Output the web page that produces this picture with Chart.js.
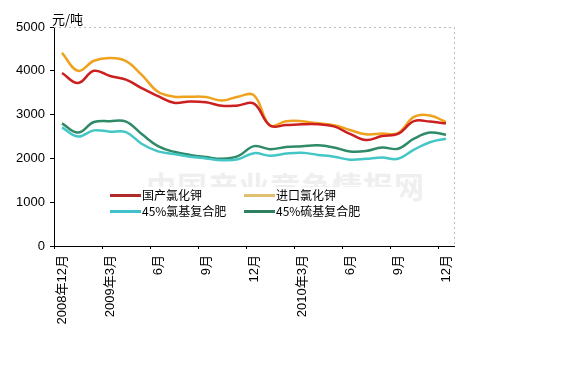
<!DOCTYPE html>
<html>
<head>
<meta charset="utf-8">
<script src="https://cdn.jsdelivr.net/npm/chart.js@4.4.1/dist/chart.umd.min.js"></script>
<style>
  html, body { margin: 0; padding: 0; background: #fff; }
  #wrap { position: relative; width: 573px; height: 380px; overflow: hidden; }
  #wm { position: absolute; left: 146px; top: 163px; font: bold 30px "Noto Sans CJK SC", sans-serif; color: #efefef; letter-spacing: 1px; white-space: nowrap; z-index: 0; }
  canvas { position: absolute; left: 0; top: 0; z-index: 1; }
  #unit { position: absolute; left: 52px; top: 9px; font: 13px "Noto Sans CJK SC", sans-serif; color: #000; z-index: 2; }
  #legend { position: absolute; left: 110px; top: 187px; width: 290px; height: 33px; background: #fff; z-index: 2; font: 12px "Noto Sans CJK SC", "Liberation Sans", sans-serif; color: #000; }
  .item { position: absolute; height: 16px; line-height: 16px; white-space: nowrap; }
  .sw { display: inline-block; width: 31px; height: 3px; vertical-align: middle; margin-right: 1px; position: relative; top: -1px; }
</style>
</head>
<body>
<div id="wrap">
  <div id="wm">中国产业竞争情报网</div>
  <canvas id="c" width="573" height="380"></canvas>
  <div id="unit">元/吨</div>
  <div id="legend"></div>
</div>
<script>
// ---- data ----
const categories = ['2008年12月','2009年1月','2009年2月','2009年3月','2009年4月','2009年5月','2009年6月','2009年7月','2009年8月','2009年9月','2009年10月','2009年11月','2009年12月',
  '2010年1月','2010年2月','2010年3月','2010年4月','2010年5月','2010年6月','2010年7月','2010年8月','2010年9月','2010年10月','2010年11月','2010年12月'];
const tickLabels = ['2008年12月','','','2009年3月','','','6月','','','9月','','','12月','','','2010年3月','','','6月','','','9月','','','12月'];
const seriesNames = ['国产氯化钾','进口氯化钾','45%氯基复合肥','45%硫基复合肥'];
const domesticKCl = [3950,3720,4000,3880,3800,3600,3420,3270,3300,3280,3200,3210,3250,2750,2760,2780,2780,2730,2560,2420,2510,2560,2850,2840,2800];
const importKCl   = [4410,4000,4230,4290,4220,3900,3520,3410,3410,3400,3320,3410,3440,2750,2850,2850,2800,2760,2650,2550,2570,2580,2950,2980,2830];
const chlorideNPK = [2710,2500,2640,2610,2600,2330,2160,2100,2040,2000,1960,1980,2120,2060,2110,2130,2080,2040,1970,1990,2020,1990,2200,2370,2450];
const sulfateNPK  = [2800,2590,2830,2850,2840,2550,2280,2150,2080,2030,1990,2050,2280,2210,2260,2280,2300,2250,2160,2170,2250,2220,2450,2590,2540];
const yTicks = [0,1000,2000,3000,4000,5000];

const colors = ['#cc1f1f','#eea21e','#44c6c6','#2f8a68'];
const legendColors = ['#b02a2a','#e0c070','#40c0c8','#2f8060'];
const values = [domesticKCl, importKCl, chlorideNPK, sulfateNPK];

// legend (HTML)
const leg = document.getElementById('legend');
const legendOrder = [[0,0,0],[1,134,0],[2,0,16],[3,134,16]];
legendOrder.forEach(([i,l,t]) => {
  const d = document.createElement('div');
  d.className = 'item';
  d.style.left = l + 'px'; d.style.top = t + 'px';
  d.innerHTML = '<span class="sw" style="background:' + legendColors[i] + '"></span>' + seriesNames[i];
  leg.appendChild(d);
});

const framePlugin = {
  id: 'frame',
  afterDraw(chart) {
    const a = chart.chartArea, ctx = chart.ctx;
    ctx.save();
    ctx.strokeStyle = '#bbbbbb';
    ctx.lineWidth = 1;
    ctx.setLineDash([2,3]);
    ctx.beginPath();
    ctx.moveTo(a.left, a.top + 0.5); ctx.lineTo(a.right + 0.5, a.top + 0.5);
    ctx.lineTo(a.right + 0.5, a.bottom);
    ctx.stroke();
    ctx.restore();
  }
};

new Chart(document.getElementById('c'), {
  type: 'line',
  data: {
    labels: categories,
    datasets: values.map((v, i) => ({
      label: seriesNames[i], data: v, borderColor: colors[i], backgroundColor: colors[i],
      borderWidth: 2.5, pointRadius: 0, tension: 0.4, fill: false
    }))
  },
  options: {
    responsive: false, animation: false,
    layout: { padding: { top: 27, right: 119, left: 0, bottom: 0 } },
    plugins: { legend: { display: false }, tooltip: { enabled: false } },
    scales: {
      x: {
        offset: true,
        afterFit(s) { s.height = 134; },
        grid: {
          offset: true, drawOnChartArea: false, drawTicks: true, tickLength: 3,
          color: (c) => (c.index !== undefined && c.index % 3 === 0) ? '#000' : 'rgba(0,0,0,0)'
        },
        border: { display: true, color: '#000', width: 1 },
        ticks: {
          autoSkip: false, minRotation: 90, maxRotation: 90, padding: 6,
          color: '#000', font: { size: 13, family: '"Liberation Sans", "Noto Sans CJK SC", sans-serif' },
          callback: (v, i) => tickLabels[i]
        }
      },
      y: {
        min: 0, max: 5000,
        afterFit(s) { s.width = 54; },
        afterBuildTicks(s) { s.ticks = yTicks.map(v => ({ value: v })); },
        grid: { drawOnChartArea: false, drawTicks: true, tickLength: 4, color: '#000' },
        border: { display: true, color: '#000', width: 1 },
        ticks: { padding: 5, color: '#000', font: { size: 13, family: '"Liberation Sans", Arial, sans-serif' },
          callback: (v) => String(v) }
      }
    }
  },
  plugins: [framePlugin]
});
</script>
</body>
</html>
